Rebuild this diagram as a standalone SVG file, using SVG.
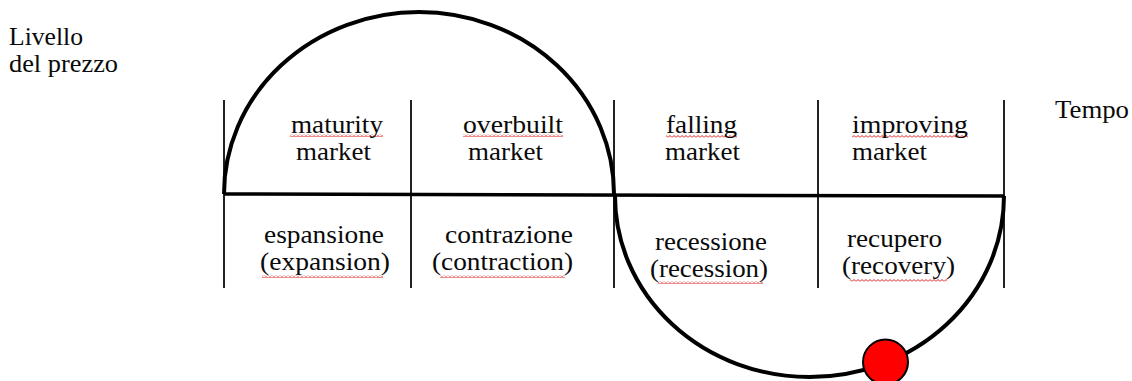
<svg xmlns="http://www.w3.org/2000/svg" width="1132" height="381" viewBox="0 0 1132 381">
<defs>
<pattern id="sq" width="4" height="3" patternUnits="userSpaceOnUse">
<path d="M0 2.5 L2 0.5 L4 2.5" fill="none" stroke="#e01818" stroke-width="1"/>
</pattern>
</defs>
<style>
text{font-family:"Liberation Serif","Times New Roman",serif;font-size:25px;fill:#0a0a0a}
.v{stroke:#222;stroke-width:2;fill:none}
.h{stroke:#000;stroke-width:3.5;fill:none}
.arc{stroke:#000;stroke-width:4;fill:none}
.sq{fill:url(#sq)}
</style>
<rect width="1132" height="381" fill="#fff"/>
<g id="connectors">
<line class="v" x1="224" y1="100" x2="224" y2="288"/>
<line class="v" x1="411" y1="100" x2="411" y2="288"/>
<line class="v" x1="614" y1="100" x2="614" y2="288"/>
<line class="v" x1="818" y1="100" x2="818" y2="288"/>
<line class="v" x1="1004" y1="100" x2="1004" y2="288"/>
<line class="h" x1="224" y1="194" x2="1004" y2="196"/>
<path class="arc" d="M224,194 A195,182 0 0 1 614,194"/>
<path class="arc" d="M615,196 A194.5,181 0 0 0 1004,196"/>
</g>
<g id="axis-y"><text x="9" y="45" textLength="74" lengthAdjust="spacingAndGlyphs">Livello</text><text x="9" y="72" textLength="109" lengthAdjust="spacingAndGlyphs">del prezzo</text></g>
<g id="axis-x"><text x="1055" y="118" textLength="74" lengthAdjust="spacingAndGlyphs">Tempo</text></g>
<g id="maturity">
<rect class="sq" x="290" y="134" width="93" height="3"/>
<text x="291" y="133" textLength="92" lengthAdjust="spacingAndGlyphs">maturity</text>
<text x="296" y="160" textLength="75" lengthAdjust="spacingAndGlyphs">market</text>
</g>
<g id="overbuilt">
<rect class="sq" x="463" y="134" width="100" height="3"/>
<text x="463" y="133" textLength="100" lengthAdjust="spacingAndGlyphs">overbuilt</text>
<text x="468" y="160" textLength="75" lengthAdjust="spacingAndGlyphs">market</text>
</g>
<g id="falling">
<rect class="sq" x="666" y="135" width="71" height="3"/>
<text x="666" y="133" textLength="71" lengthAdjust="spacingAndGlyphs">falling</text>
<text x="665" y="160" textLength="75" lengthAdjust="spacingAndGlyphs">market</text>
</g>
<g id="improving">
<rect class="sq" x="852" y="135" width="116" height="3"/>
<text x="852" y="133" textLength="116" lengthAdjust="spacingAndGlyphs">improving</text>
<text x="852" y="160" textLength="75" lengthAdjust="spacingAndGlyphs">market</text>
</g>
<g id="espansione">
<rect class="sq" x="262" y="275" width="121" height="3"/>
<text x="264" y="243" textLength="120" lengthAdjust="spacingAndGlyphs">espansione</text>
<text x="260" y="270" textLength="130" lengthAdjust="spacingAndGlyphs">(expansion)</text>
</g>
<g id="contrazione">
<rect class="sq" x="440" y="275" width="125" height="3"/>
<text x="445" y="243" textLength="128" lengthAdjust="spacingAndGlyphs">contrazione</text>
<text x="432" y="270" textLength="141" lengthAdjust="spacingAndGlyphs">(contraction)</text>
</g>
<g id="recessione">
<rect class="sq" x="658" y="281" width="105" height="3"/>
<text x="655" y="250" textLength="112" lengthAdjust="spacingAndGlyphs">recessione</text>
<text x="650" y="277" textLength="118" lengthAdjust="spacingAndGlyphs">(recession)</text>
</g>
<g id="recupero">
<rect class="sq" x="850" y="279" width="97" height="3"/>
<text x="847" y="247" textLength="95" lengthAdjust="spacingAndGlyphs">recupero</text>
<text x="842" y="274" textLength="113" lengthAdjust="spacingAndGlyphs">(recovery)</text>
</g>
<g id="marker">
<circle cx="885.5" cy="362" r="22.5" fill="#ff0000" stroke="#000" stroke-width="2"/>
</g>
</svg>
